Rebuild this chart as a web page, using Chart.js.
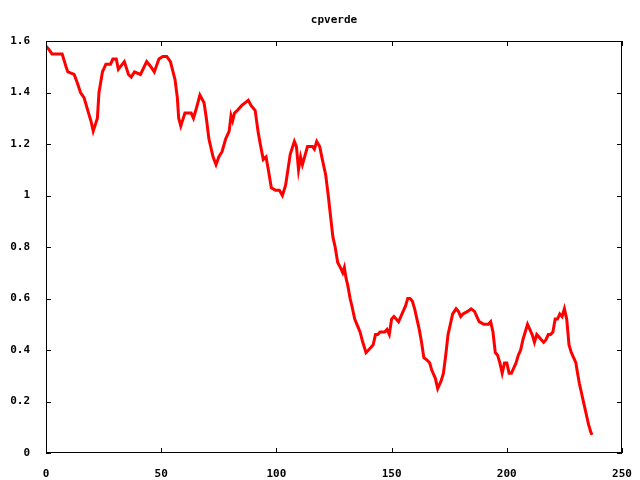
<!DOCTYPE html>
<html>
<head>
<meta charset="utf-8">
<script src="https://cdn.jsdelivr.net/npm/chart.js@4/dist/chart.umd.min.js"></script>
<style>
  html, body { margin: 0; padding: 0; background: #fff; }
  #wrap { width: 640px; height: 480px; }
</style>
</head>
<body>
<div id="wrap"><canvas id="c" width="640" height="480"></canvas></div>
<script>
// values (x = sample index, y = value)
const xs = [0, 1, 2.6, 7, 8.7, 9.5, 12.2, 13.5, 15, 16.5, 18.8, 19.5, 20.5, 22.3, 23, 24.5, 26, 28, 29, 30.5,
  31.4, 34, 35.8, 37, 38.4, 41, 43.7, 45.5, 47, 49, 50.7, 52.4, 54, 56, 57, 57.6, 58.5, 60.3, 63, 64,
  65, 66.8, 68.6, 69.6, 70.7, 72.5, 73.8, 75, 76.4, 78, 79.5, 80.3, 81, 81.8, 83, 85, 87.8, 89, 90.8, 92,
  93, 94.3, 95.5, 96.5, 97.8, 99.6, 101.3, 102.6, 104, 106, 107.8, 108.7, 109.6, 110.5, 111.3, 113.5, 115.7, 116.5, 117.5, 118.8,
  119.7, 121.4, 122.5, 123.5, 124.5, 125.5, 126.6, 127.8, 128.8, 129.5, 130.2, 131, 132, 132.8, 134, 135.4, 136.3, 137.5, 138.9, 140,
  141, 142, 143, 144, 145, 146, 147, 148, 149, 150, 151, 152, 153, 154, 155, 156, 157,
  158, 159, 160, 161, 162, 163, 164, 165.5, 166.5, 167.5, 169, 170, 171.5, 172.5, 173.5, 174.5, 175.5, 176.5, 178, 179,
  180, 181, 183, 184.5, 186, 187, 188, 190, 192, 193, 194, 195, 196, 197, 198, 199, 200, 201, 202, 203,
  204, 205, 206, 207, 208, 209, 210, 211, 212, 213, 214, 215, 216, 217, 218, 219, 220, 221, 222, 223,
  224, 225, 226, 227, 228, 229, 230, 230.5, 231.5, 232.5, 233.5, 234.5, 235.5, 236.5, 237];
const ys = [1.58, 1.57, 1.55, 1.55, 1.50, 1.48, 1.47, 1.44, 1.40, 1.38, 1.31, 1.29, 1.25, 1.30, 1.40, 1.48, 1.51, 1.51, 1.53, 1.53,
  1.49, 1.52, 1.47, 1.46, 1.48, 1.47, 1.52, 1.50, 1.48, 1.53, 1.54, 1.54, 1.52, 1.45, 1.38, 1.30, 1.27, 1.32, 1.32, 1.30,
  1.33, 1.39, 1.36, 1.30, 1.22, 1.15, 1.12, 1.15, 1.17, 1.22, 1.25, 1.31, 1.29, 1.32, 1.33, 1.35, 1.37, 1.35, 1.33, 1.25,
  1.20, 1.14, 1.15, 1.10, 1.03, 1.02, 1.02, 1.00, 1.04, 1.16, 1.21, 1.19, 1.10, 1.15, 1.12, 1.19, 1.19, 1.18, 1.21, 1.19,
  1.15, 1.08, 1.00, 0.92, 0.84, 0.80, 0.74, 0.72, 0.70, 0.72, 0.68, 0.65, 0.60, 0.57, 0.52, 0.49, 0.47, 0.43, 0.39, 0.40,
  0.41, 0.42, 0.46, 0.46, 0.47, 0.47, 0.47, 0.48, 0.46, 0.52, 0.53, 0.52, 0.51, 0.53, 0.55, 0.57, 0.60,
  0.60, 0.59, 0.56, 0.52, 0.48, 0.43, 0.37, 0.36, 0.35, 0.32, 0.29, 0.25, 0.28, 0.31, 0.38, 0.46, 0.50, 0.54, 0.56, 0.55,
  0.53, 0.54, 0.55, 0.56, 0.55, 0.53, 0.51, 0.50, 0.50, 0.51, 0.47, 0.39, 0.38, 0.35, 0.31, 0.35, 0.35, 0.31, 0.31, 0.33,
  0.35, 0.38, 0.40, 0.44, 0.47, 0.50, 0.48, 0.46, 0.43, 0.46, 0.45, 0.44, 0.43, 0.44, 0.46, 0.46, 0.47, 0.52, 0.52, 0.54,
  0.53, 0.56, 0.52, 0.42, 0.39, 0.37, 0.35, 0.32, 0.27, 0.23, 0.19, 0.15, 0.11, 0.08, 0.07];
const xTicks = [0, 50, 100, 150, 200, 250];
const yTicks = [0, 0.2, 0.4, 0.6, 0.8, 1, 1.2, 1.4, 1.6];
const title = "cpverde";

const font = { family: "'DejaVu Sans Mono', monospace", size: 11, weight: "bold" };

// gnuplot style frame, inward ticks on all four sides, title
const frame = {
  id: "frame",
  afterDraw(chart) {
    const c = chart.ctx, a = chart.chartArea;
    const sx = chart.scales.x, sy = chart.scales.y;
    c.save();
    c.strokeStyle = "#000";
    c.lineWidth = 1;
    c.strokeRect(a.left + 0.5, a.top + 0.5, a.right - a.left - 1, a.bottom - a.top - 1);
    c.beginPath();
    xTicks.forEach((t) => {
      let p = Math.round(sx.getPixelForValue(t)) + 0.5;
      c.moveTo(p, a.bottom); c.lineTo(p, a.bottom - 5);
      c.moveTo(p, a.top); c.lineTo(p, a.top + 5);
    });
    yTicks.forEach((t) => {
      let p = Math.round(sy.getPixelForValue(t)) + 0.5;
      c.moveTo(a.left, p); c.lineTo(a.left + 5, p);
      c.moveTo(a.right, p); c.lineTo(a.right - 5, p);
    });
    c.stroke();
    c.fillStyle = "#000";
    c.font = "bold 11px 'DejaVu Sans Mono', monospace";
    c.textAlign = "center";
    c.textBaseline = "middle";
    c.fillText(title, (a.left + a.right) / 2, 20);
    c.restore();
  },
};

new Chart(document.getElementById("c"), {
  type: "line",
  data: {
    datasets: [
      {
        data: xs.map((x, i) => ({ x: x, y: ys[i] })),
        borderColor: "#ff0000",
        borderWidth: 3,
        pointRadius: 0,
        tension: 0,
        fill: false,
      },
    ],
  },
  options: {
    responsive: false,
    animation: false,
    layout: { padding: { top: 41, right: 18, left: 0, bottom: 0 } },
    plugins: { legend: { display: false }, title: { display: false }, tooltip: { enabled: false } },
    scales: {
      x: {
        type: "linear",
        min: 0,
        max: 250,
        afterBuildTicks: (s) => { s.ticks = xTicks.map((v) => ({ value: v })); },
        afterFit: (s) => { s.height = 27; },
        grid: { display: false },
        border: { display: false },
        ticks: { color: "#000", font: font, padding: 7, maxRotation: 0 },
      },
      y: {
        min: 0,
        max: 1.6,
        afterBuildTicks: (s) => { s.ticks = yTicks.map((v) => ({ value: v })); },
        afterFit: (s) => { s.width = 46; },
        grid: { display: false },
        border: { display: false },
        ticks: {
          color: "#000",
          font: font,
          padding: 8,
          callback: (v) => String(Math.round(v * 10) / 10),
        },
      },
    },
  },
  plugins: [frame],
});
</script>
</body>
</html>
